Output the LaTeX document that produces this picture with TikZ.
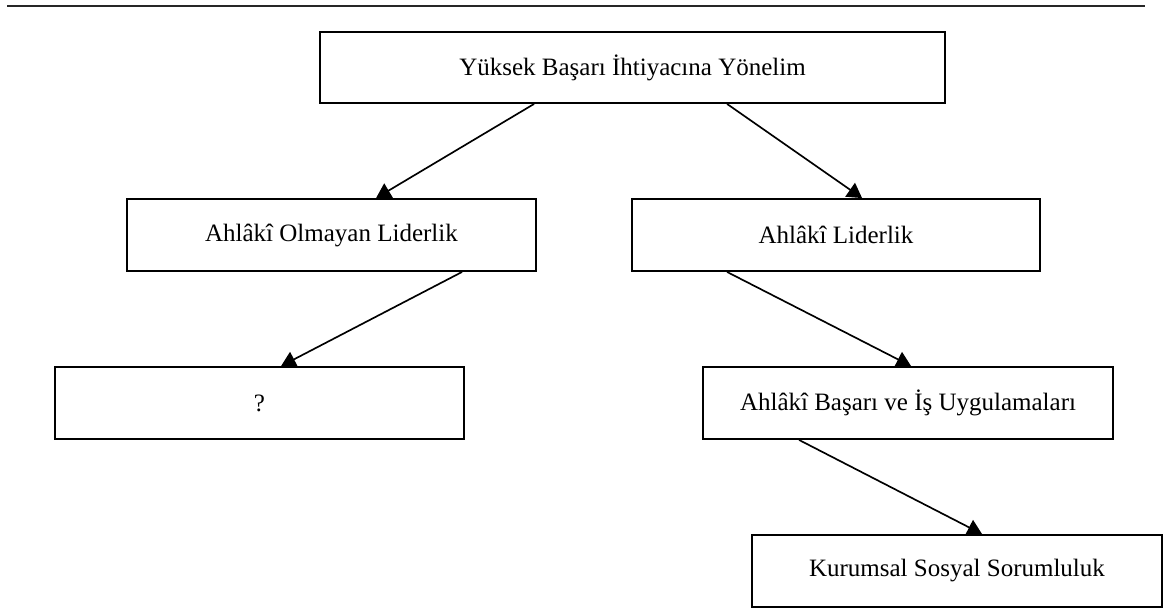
\documentclass[tikz,border=0pt]{standalone}
\usepackage{fontspec}
\setmainfont{Liberation Serif}
\usetikzlibrary{arrows.meta,calc}
\tikzset{
  box/.style={draw=black, line width=0.9pt, fill=white, inner sep=0pt,
    minimum height=72*0.48pt, font=\fontsize{12}{14}\selectfont},
  conn/.style={draw=black, line width=0.8pt, -{Triangle[length=7pt,width=8pt]}},
  rulestyle/.style={draw=black!85, line width=1pt}
}
\begin{document}
\begin{tikzpicture}[x=0.48pt,y=-0.48pt]
\useasboundingbox (0,0) rectangle (1163,608);
\coordinate (ruleL) at (7,6);
\coordinate (ruleR) at (1145,6);
\draw[rulestyle] (ruleL) -- (ruleR);

\node[box, minimum width=625*0.48pt, minimum height=71*0.48pt] (top) at (632.5,67.5) {Yüksek Başarı İhtiyacına Yönelim};
\node[box, minimum width=409*0.48pt] (l1) at (331.5,235) {Ahlâkî Olmayan Liderlik};
\node[box, minimum width=408*0.48pt] (r1) at (836,235) {Ahlâkî Liderlik};
\node[box, minimum width=409*0.48pt] (l2) at (259.5,403) {?};
\node[box, minimum width=410*0.48pt] (r2) at (908,403) {Ahlâkî Başarı ve İş Uygulamaları};
\node[box, minimum width=410*0.48pt] (r3) at (957,571) {Kurumsal Sosyal Sorumluluk};

\draw[conn] ($(top.south west)+(215,0)$) -- ($(l1.north west)+(250,0)$);
\draw[conn] ($(top.south west)+(408,0)$) -- ($(r1.north west)+(231,0)$);
\draw[conn] ($(l1.south west)+(336,0)$) -- ($(l2.north west)+(227,0)$);
\draw[conn] ($(r1.south west)+(96,0)$) -- ($(r2.north west)+(209,0)$);
\draw[conn] ($(r2.south west)+(97,0)$) -- ($(r3.north west)+(231,0)$);
\end{tikzpicture}
\end{document}
